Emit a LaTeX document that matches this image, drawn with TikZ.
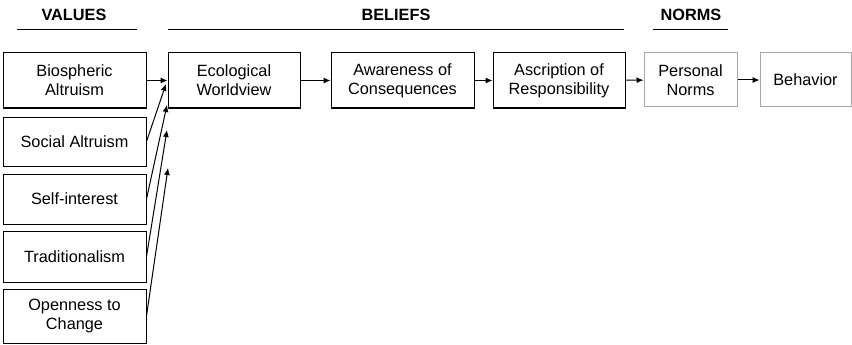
\documentclass[tikz,border=0pt]{standalone}
\usepackage{fontspec}
\setmainfont{Liberation Sans}
\usetikzlibrary{arrows.meta}

\tikzset{
	box/.style={draw, line width=1pt, align=center, inner sep=0pt,
		font=\fontsize{16.3}{19}\selectfont},
	lightbox/.style={box, draw=black!35},
	head/.style={font=\fontsize{16.3}{19}\selectfont\bfseries},
	arr/.style={-{Latex[length=7pt,width=6pt]}, line width=1pt}
}

\begin{document}
\begin{tikzpicture}[x=1pt,y=-1pt]
	\useasboundingbox (0,0) rectangle (852,345);

% headings
\node[head] (values) at (74,15) {VALUES};
\node[head] (beliefs) at (396,15) {BELIEFS};
\node[head] (norms) at (691,15) {NORMS};
\draw[line width=1pt] (17,30) -- (137,30)
		(168,30) -- (624,30)
		(653,30) -- (728,30);

% values
\node[box, minimum width=143pt, minimum height=55pt] (bio) at (74.5,80.5) {Biospheric\\Altruism};
\node[box, minimum width=143pt, minimum height=49pt] (social) at (74.5,141.5) {Social Altruism};
\node[box, minimum width=143pt, minimum height=50pt] (self) at (74.5,199) {Self-interest};
\node[box, minimum width=143pt, minimum height=51pt] (trad) at (74.5,256.5) {Traditionalism};
\node[box, minimum width=143pt, minimum height=54pt] (open) at (74.5,316) {Openness to\\Change};

% beliefs
\node[box, minimum width=132pt, minimum height=55pt] (eco) at (234,80.5) {Ecological\\Worldview};
\node[box, minimum width=143pt, minimum height=55pt] (aware) at (402.5,80.5) {Awareness of\\Consequences};
\node[box, minimum width=132pt, minimum height=55pt] (ascr) at (559,80.5) {Ascription of\\Responsibility};

% norms and behavior
\node[lightbox, minimum width=93pt, minimum height=54pt] (pers) at (690.5,80) {Personal\\Norms};
\node[lightbox, minimum width=91pt, minimum height=54pt] (behav) at (805.5,80) {Behavior};

% arrow ends on the left
\coordinate (t1) at (166,84);
\coordinate (t2) at (167,105);
\coordinate (t3) at (167,130);
\coordinate (t4) at (168,168);

\draw[arr] (bio) -- (eco);
\draw[arr] (social.east) -- (t1);
\draw[arr] (self.east) -- (t2);
\draw[arr] (trad.east) -- (t3);
\draw[arr] (open.east) -- (t4);

\draw[arr] (eco) -- (aware);
\draw[arr] (aware) -- (ascr);
\draw[arr] (ascr) -- (pers);
\draw[arr] (pers) -- (behav);

\end{tikzpicture}
\end{document}
